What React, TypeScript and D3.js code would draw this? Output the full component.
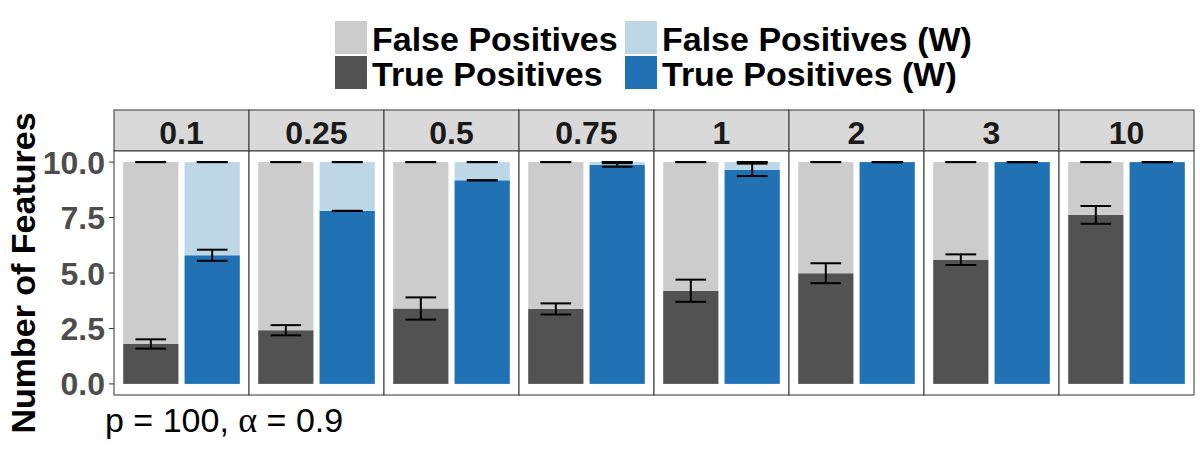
import React from "react";
import * as d3 from "d3";

const facets = ["0.1", "0.25", "0.5", "0.75", "1", "2", "3", "10"];
const methods = ["Standard", "Weighted"];
// True positives (standard)
const tpMean = [1.8, 2.42, 3.4, 3.38, 4.2, 4.99, 5.6, 7.62];
const tpSe = [0.21, 0.23, 0.5, 0.25, 0.5, 0.45, 0.24, 0.4];
// False positives (standard)
const fpMean = [8.2, 7.58, 6.6, 6.62, 5.8, 5.01, 4.4, 2.38];
// True positives (weighted)
const tpWMean = [5.8, 7.8, 9.18, 9.87, 9.65, 10, 10, 10];
const tpWSe = [0.25, 0.0, 0.0, 0.08, 0.28, 0.0, 0.0, 0.0];
// False positives (weighted)
const fpWMean = [4.2, 2.2, 0.82, 0.13, 0.35, 0, 0, 0];
const totalSe = [0, 0, 0, 0, 0, 0, 0, 0];

const yTicks = [0, 2.5, 5, 7.5, 10];
const legendItems = [
  { label: "False Positives", color: "#cccccc" },
  { label: "False Positives (W)", color: "#bdd7e7" },
  { label: "True Positives", color: "#525252" },
  { label: "True Positives (W)", color: "#2171b5" },
];
const COL = { fp: "#cccccc", tp: "#525252", fpW: "#bdd7e7", tpW: "#2171b5" };

const FONT = "'Liberation Sans', Arial, Helvetica, sans-serif";

export default function App() {
  const W = 1200, H = 450;
  const panelLeft = 114, panelRight = 1194;
  const stripTop = 110, panelTop = 151, panelBottom = 395;

  const fx = d3.scaleBand<string>().domain(facets).range([panelLeft, panelRight]).padding(0);
  const pw = fx.bandwidth();
  const bx = d3.scaleBand<string>().domain(methods).range([0, pw]).paddingInner(0.1).paddingOuter(0.15);
  const y = d3.scaleLinear().domain([-0.5, 10.5]).range([panelBottom, panelTop]);
  const ebW = bx.step() * 0.5;

  const errBar = (cx: number, m: number, se: number, key: string) => {
    const y1 = y(m + se), y2 = y(m - se);
    return (
      <g key={key} stroke="#000" strokeWidth={2}>
        <line x1={cx - ebW / 2} x2={cx + ebW / 2} y1={y1} y2={y1} />
        <line x1={cx - ebW / 2} x2={cx + ebW / 2} y1={y2} y2={y2} />
        {se > 0 && <line x1={cx} x2={cx} y1={y1} y2={y2} />}
      </g>
    );
  };

  return (
    <svg width={W} height={H} style={{ display: "block", position: "absolute", left: 0, top: 0 }} fontFamily={FONT}>
      <rect width={W} height={H} fill="#fff" />
      {/* Legend */}
      {legendItems.map((it, i) => {
        const col = i % 2, row = Math.floor(i / 2);
        const kx = col === 0 ? 335 : 625;
        const ky = 21 + row * 35;
        return (
          <g key={it.label}>
            <rect x={kx} y={ky} width={32} height={33} fill={it.color} />
            <text x={kx + 37} y={ky + 30} fontSize={34} fontWeight="bold" fill="#000">{it.label}</text>
          </g>
        );
      })}
      {/* Panels */}
      {facets.map((f, i) => {
        const x0 = fx(f)!;
        const c1 = x0 + bx("Standard")! + bx.bandwidth() / 2;
        const c2 = x0 + bx("Weighted")! + bx.bandwidth() / 2;
        const bw = bx.bandwidth();
        return (
          <g key={f}>
            <rect x={x0} y={stripTop} width={pw} height={panelTop - stripTop} fill="#d9d9d9" stroke="#333" strokeWidth={1} />
            <text x={x0 + pw / 2} y={144} textAnchor="middle" fontSize={32} fontWeight="bold" fill="#1a1a1a">{f}</text>
            <rect x={x0} y={panelTop} width={pw} height={panelBottom - panelTop} fill="#fff" />
            {/* standard */}
            <rect x={x0 + bx("Standard")!} width={bw} y={y(tpMean[i])} height={y(0) - y(tpMean[i])} fill={COL.tp} />
            <rect x={x0 + bx("Standard")!} width={bw} y={y(tpMean[i] + fpMean[i])} height={y(tpMean[i]) - y(tpMean[i] + fpMean[i])} fill={COL.fp} />
            {/* weighted */}
            <rect x={x0 + bx("Weighted")!} width={bw} y={y(tpWMean[i])} height={y(0) - y(tpWMean[i])} fill={COL.tpW} />
            {fpWMean[i] > 0 && (
              <rect x={x0 + bx("Weighted")!} width={bw} y={y(tpWMean[i] + fpWMean[i])} height={y(tpWMean[i]) - y(tpWMean[i] + fpWMean[i])} fill={COL.fpW} />
            )}
            {errBar(c1, tpMean[i] + fpMean[i], totalSe[i], "e1")}
            {errBar(c1, tpMean[i], tpSe[i], "e2")}
            {errBar(c2, tpWMean[i] + fpWMean[i], totalSe[i], "e3")}
            {errBar(c2, tpWMean[i], tpWSe[i], "e4")}
            <rect x={x0} y={panelTop} width={pw} height={panelBottom - panelTop} fill="none" stroke="#333" strokeWidth={1} />
          </g>
        );
      })}
      {/* Y axis */}
      {yTicks.map((t) => (
        <g key={t}>
          <line x1={panelLeft - 5} x2={panelLeft} y1={y(t)} y2={y(t)} stroke="#333" strokeWidth={1} />
          <text x={panelLeft - 9} y={y(t)} dy="0.36em" textAnchor="end" fontSize={32} fontWeight="bold" fill="#4d4d4d">{d3.format(".1f")(t)}</text>
        </g>
      ))}
      <text transform={`translate(35,${(panelTop + panelBottom) / 2}) rotate(-90)`} textAnchor="middle" fontSize={34} fontWeight="bold" fill="#000">Number of Features</text>
      {/* Caption */}
      <text x={105} y={432} fontSize={34} fill="#000">
        p = 100, <tspan fontFamily="'Liberation Serif', 'DejaVu Serif', serif" fontSize={36}>α</tspan> = 0.9
      </text>
    </svg>
  );
}
